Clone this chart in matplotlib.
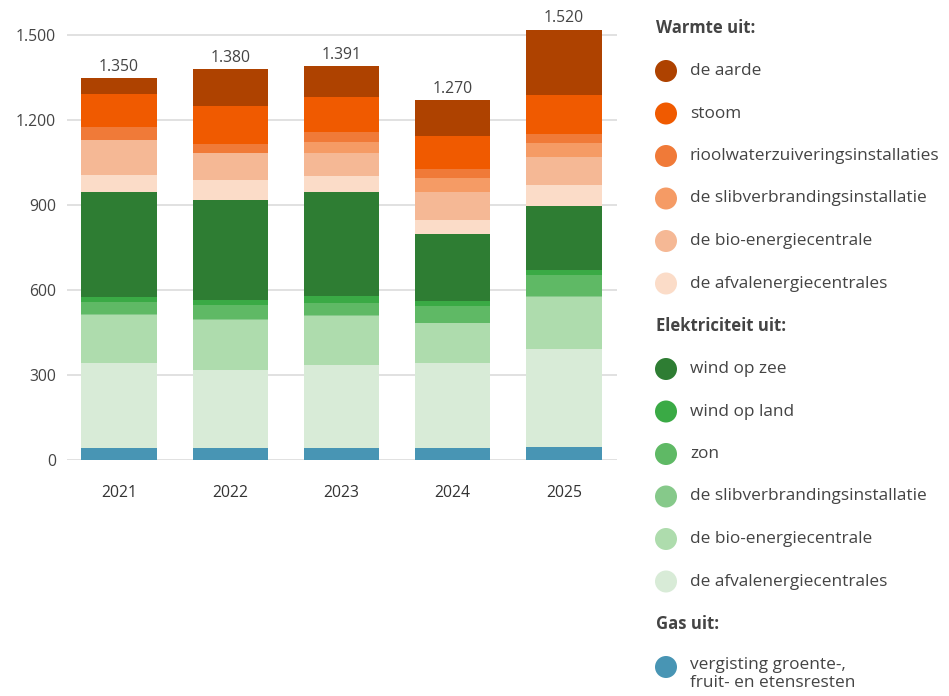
import matplotlib
matplotlib.use("Agg")
import matplotlib.pyplot as plt
from matplotlib.patches import Circle
import numpy as np

plt.rcParams['font.family'] = ['Open Sans', 'DejaVu Sans']

years = ["2021", "2022", "2023", "2024", "2025"]
totals = [1350, 1380, 1391, 1270, 1520]

# Series (bottom -> top)
gas_gft        = [41, 41, 41, 41, 45]
el_afval       = [302, 277, 295, 301, 346]
el_bio         = [168, 176, 172, 140, 184]
el_slib        = [3, 3, 3, 3, 4]
el_zon         = [44, 49, 44, 60, 73]
el_wind_land   = [17, 19, 24, 17, 18]
el_wind_zee    = [371, 353, 366, 234, 228]
wa_afval       = [59, 70, 59, 51, 73]
wa_bio         = [123, 96, 78, 98, 99]
wa_slib        = [0, 0, 42, 49, 48]
wa_riool       = [47, 32, 35, 32, 33]
wa_stoom       = [116, 133, 121, 119, 139]
wa_aarde       = [58, 130, 111, 125, 226]

series = [
    (gas_gft,      "#4895b4"),
    (el_afval,     "#d8ebd7"),
    (el_bio,       "#aedcad"),
    (el_slib,      "#86c98a"),
    (el_zon,       "#5fb965"),
    (el_wind_land, "#3aaa45"),
    (el_wind_zee,  "#2e7d33"),
    (wa_afval,     "#fbdcc8"),
    (wa_bio,       "#f5b895"),
    (wa_slib,      "#f59b65"),
    (wa_riool,     "#f07a38"),
    (wa_stoom,     "#f05a00"),
    (wa_aarde,     "#ae4200"),
]

legend_groups = [
    ("Warmte uit:", [("de aarde", "#ae4200"), ("stoom", "#f05a00"),
                     ("rioolwaterzuiveringsinstallaties", "#f07a38"),
                     ("de slibverbrandingsinstallatie", "#f59b65"),
                     ("de bio-energiecentrale", "#f5b895"),
                     ("de afvalenergiecentrales", "#fbdcc8")]),
    ("Elektriciteit uit:", [("wind op zee", "#2e7d33"), ("wind op land", "#3aaa45"),
                            ("zon", "#5fb965"),
                            ("de slibverbrandingsinstallatie", "#86c98a"),
                            ("de bio-energiecentrale", "#aedcad"),
                            ("de afvalenergiecentrales", "#d8ebd7")]),
    ("Gas uit:", [("vergisting groente-,\nfruit- en etensresten", "#4895b4")]),
]

FS = 11.3
LFS = 12.4
W, H = 949, 696
fig = plt.figure(figsize=(W / 100, H / 100), dpi=100)
ax = fig.add_axes([67 / W, (H - 460) / H, 550 / W, (460 - 18) / H])

x = np.arange(len(years))
bottom = np.zeros(len(years))
for vals, col in series:
    v = np.array(vals, dtype=float)
    ax.bar(x, v, bottom=bottom, width=0.676, color=col, linewidth=0, zorder=3)
    bottom += v

for xi, t in zip(x, totals):
    ax.text(xi, t + 10, f"{t:,}".replace(",", "."), ha="center", va="bottom",
            fontsize=FS, color="#444444", zorder=4)

ax.set_xlim(-0.468, 4.477)
ax.set_ylim(0, 1560)
yt = [0, 300, 600, 900, 1200, 1500]
ax.set_yticks(yt)
ax.set_yticklabels([f"{v:,}".replace(",", ".") for v in yt])
ax.set_xticks(x)
ax.set_xticklabels(years)
ax.tick_params(axis="both", length=0, labelsize=FS, colors="#444444")
ax.tick_params(axis="y", pad=8)
ax.tick_params(axis="x", pad=18)
for lab in ax.get_xticklabels():
    lab.set_color("#333333")
for s in ax.spines.values():
    s.set_visible(False)
ax.grid(axis="y", color="#dcdcdc", linewidth=1.2, zorder=0)
ax.set_axisbelow(True)

# Legend overlay in pixel coordinates
lax = fig.add_axes([0, 0, 1, 1])
lax.set_xlim(0, W)
lax.set_ylim(H, 0)
lax.axis("off")
y = 28
for header, items in legend_groups:
    lax.text(656, y, header, fontsize=12.0, fontweight="bold", color="#444444",
             va="center", ha="left")
    y += 43
    for label, col in items:
        lax.add_patch(Circle((666, y), 11, color=col, linewidth=0))
        lax.text(690, y - 10 if "\n" in label else y, label, fontsize=LFS,
                 color="#444444", va="top" if "\n" in label else "center",
                 ha="left", linespacing=1.2)
        y += 42.5
fig.savefig("out.png", dpi=100)
